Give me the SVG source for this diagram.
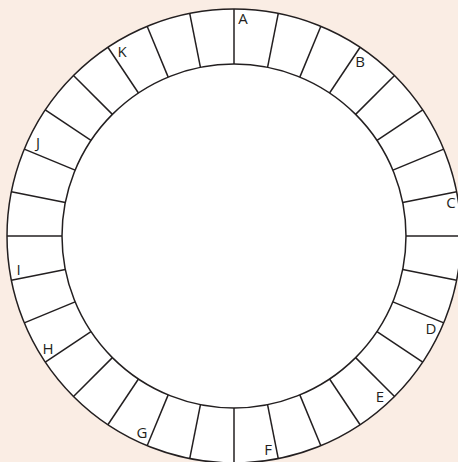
<svg xmlns="http://www.w3.org/2000/svg" width="458" height="462" viewBox="0 0 458 462">
<style>
.ring{fill:#fff;stroke:#231f20;stroke-width:1.5}
.lb{font-family:"Open Sans","Liberation Sans",Arial,sans-serif;font-size:15px;fill:#231f20;text-anchor:middle}
</style>
<defs>
<line id="sp" x1="0" y1="-172" x2="0" y2="-227"/>
</defs>
<rect x="0" y="0" width="458" height="462" fill="#faede4"/>
<g id="ring">
<circle class="ring" cx="234" cy="236" r="227"/>
<circle class="ring" cx="234" cy="236" r="172"/>
</g>
<g id="connectors" transform="translate(234,236)" stroke="#231f20" stroke-width="1.5">
<use href="#sp" transform="rotate(0)"/>
<use href="#sp" transform="rotate(11.25)"/>
<use href="#sp" transform="rotate(22.5)"/>
<use href="#sp" transform="rotate(33.75)"/>
<use href="#sp" transform="rotate(45)"/>
<use href="#sp" transform="rotate(56.25)"/>
<use href="#sp" transform="rotate(67.5)"/>
<use href="#sp" transform="rotate(78.75)"/>
<use href="#sp" transform="rotate(90)"/>
<use href="#sp" transform="rotate(101.25)"/>
<use href="#sp" transform="rotate(112.5)"/>
<use href="#sp" transform="rotate(123.75)"/>
<use href="#sp" transform="rotate(135)"/>
<use href="#sp" transform="rotate(146.25)"/>
<use href="#sp" transform="rotate(157.5)"/>
<use href="#sp" transform="rotate(168.75)"/>
<use href="#sp" transform="rotate(180)"/>
<use href="#sp" transform="rotate(191.25)"/>
<use href="#sp" transform="rotate(202.5)"/>
<use href="#sp" transform="rotate(213.75)"/>
<use href="#sp" transform="rotate(225)"/>
<use href="#sp" transform="rotate(236.25)"/>
<use href="#sp" transform="rotate(247.5)"/>
<use href="#sp" transform="rotate(258.75)"/>
<use href="#sp" transform="rotate(270)"/>
<use href="#sp" transform="rotate(281.25)"/>
<use href="#sp" transform="rotate(292.5)"/>
<use href="#sp" transform="rotate(303.75)"/>
<use href="#sp" transform="rotate(315)"/>
<use href="#sp" transform="rotate(326.25)"/>
<use href="#sp" transform="rotate(337.5)"/>
<use href="#sp" transform="rotate(348.75)"/>
</g>
<g id="labels">
<text class="lb" id="A" x="243" y="24">A</text>
<text class="lb" id="B" x="360" y="67">B</text>
<text class="lb" id="C" x="451" y="208">C</text>
<text class="lb" id="D" x="431" y="334">D</text>
<text class="lb" id="E" x="380" y="402">E</text>
<text class="lb" id="F" x="268" y="455">F</text>
<text class="lb" id="G" x="142" y="438">G</text>
<text class="lb" id="H" x="48" y="354">H</text>
<text class="lb" id="I" x="18.5" y="275">I</text>
<text class="lb" id="J" x="38" y="148">J</text>
<text class="lb" id="K" x="122" y="57">K</text>
</g>
</svg>
